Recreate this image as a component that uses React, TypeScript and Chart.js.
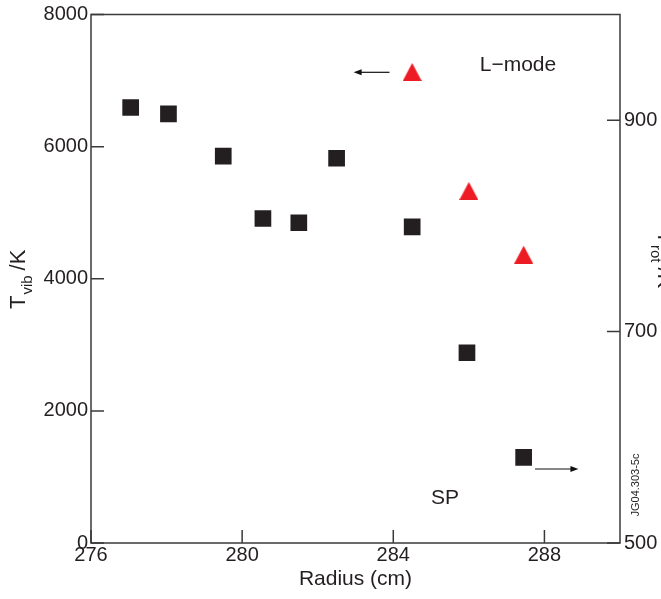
import React, { useEffect, useRef } from "react";
import { Chart, registerables } from "chart.js";

Chart.register(...registerables);

// Radial profile: rotational temperature (squares, right axis) and
// vibrational temperature (triangles, left axis).
const radiusRot = [277.05, 278.05, 279.5, 280.55, 281.5, 282.5, 284.5, 285.95, 287.45];
const tRot = [912, 906, 866, 807, 803, 864, 799, 680, 581];
const radiusVib = [284.5, 286.0, 287.45];
const tVib = [7130, 5330, 4365];

const xTicks = [276, 280, 284, 288];
const leftTicks = [0, 2000, 4000, 6000, 8000];
const rightTicks = [500, 700, 900];

const FONT = "'Liberation Sans', Arial, Helvetica, sans-serif";
const INK = "#231f20";
const AXIS = "#3a3a3a";
const RED = "#ed1c24";
const TICK_LEN = 13;

// Annotation anchors in data units (arrows point to the axis a series belongs to)
const vibArrow = { from: 283.9, to: 282.95, y: 7125 };
const rotArrow = { from: 287.75, to: 288.9, y: 570 };
const lModeLabel = { x: 287.3, y: 7236 };
const spLabel = { x: 285.37, y: 681 };

function drawArrow(ctx: CanvasRenderingContext2D, x0: number, x1: number, y: number) {
  const dir = Math.sign(x1 - x0);
  ctx.beginPath();
  ctx.moveTo(x0, y);
  ctx.lineTo(x1 - dir * 6, y);
  ctx.stroke();
  ctx.beginPath();
  ctx.moveTo(x1, y);
  ctx.lineTo(x1 - dir * 8, y - 3);
  ctx.lineTo(x1 - dir * 8, y + 3);
  ctx.closePath();
  ctx.fill();
}

type Part = { text: string; size: number; dy: number; gap?: number };

function drawRotated(
  ctx: CanvasRenderingContext2D,
  x: number,
  y: number,
  rotation: number,
  parts: Part[]
) {
  ctx.save();
  ctx.translate(x, y);
  ctx.rotate(rotation);
  ctx.textAlign = "left";
  ctx.textBaseline = "alphabetic";
  let cx = 0;
  for (const p of parts) {
    cx += p.gap || 0;
    ctx.font = `${p.size}px ${FONT}`;
    ctx.fillText(p.text, cx, p.dy);
    cx += ctx.measureText(p.text).width;
  }
  ctx.restore();
}

const decorPlugin = {
  id: "decor",
  afterDraw(chart: any) {
    const { ctx, chartArea: a, scales } = chart;
    const sx = scales.x;
    const sl = scales.y;
    const sr = scales.y1;
    ctx.save();

    // frame
    ctx.strokeStyle = AXIS;
    ctx.lineWidth = 1.5;
    ctx.strokeRect(a.left, a.top, a.right - a.left, a.bottom - a.top);

    // inward tick marks
    ctx.beginPath();
    xTicks.forEach((v) => {
      const px = sx.getPixelForValue(v);
      ctx.moveTo(px, a.bottom);
      ctx.lineTo(px, a.bottom - TICK_LEN);
    });
    leftTicks.forEach((v) => {
      const py = sl.getPixelForValue(v);
      ctx.moveTo(a.left, py);
      ctx.lineTo(a.left + TICK_LEN, py);
    });
    rightTicks.forEach((v) => {
      const py = sr.getPixelForValue(v);
      ctx.moveTo(a.right, py);
      ctx.lineTo(a.right - TICK_LEN, py);
    });
    ctx.stroke();

    // arrows
    ctx.strokeStyle = "#111";
    ctx.fillStyle = "#111";
    ctx.lineWidth = 1.2;
    drawArrow(
      ctx,
      sx.getPixelForValue(vibArrow.from),
      sx.getPixelForValue(vibArrow.to),
      sl.getPixelForValue(vibArrow.y)
    );
    drawArrow(
      ctx,
      sx.getPixelForValue(rotArrow.from),
      sx.getPixelForValue(rotArrow.to),
      sr.getPixelForValue(rotArrow.y)
    );

    // labels inside the plot
    ctx.fillStyle = INK;
    ctx.textAlign = "center";
    ctx.textBaseline = "middle";
    ctx.font = `21px ${FONT}`;
    ctx.fillText(
      "L\u2212mode",
      sx.getPixelForValue(lModeLabel.x),
      sl.getPixelForValue(lModeLabel.y)
    );
    ctx.fillText("SP", sx.getPixelForValue(spLabel.x), sl.getPixelForValue(spLabel.y));

    // figure id
    ctx.save();
    ctx.translate(a.right + 16, a.bottom - 58);
    ctx.rotate(-Math.PI / 2);
    ctx.font = `11px ${FONT}`;
    ctx.fillText("JG04.303-5c", 0, 0);
    ctx.restore();

    // axis titles
    drawRotated(ctx, 25, a.bottom - 234, -Math.PI / 2, [
      { text: "T", size: 22, dy: 0 },
      { text: "vib", size: 15, dy: 7, gap: 1 },
      { text: "/K", size: 22, dy: 0, gap: 5 },
    ]);
    drawRotated(ctx, a.right + 38, a.top + 216, Math.PI / 2, [
      { text: "T", size: 22, dy: 0 },
      { text: "rot", size: 15, dy: 7, gap: 1 },
      { text: "/K", size: 22, dy: 0, gap: 5 },
    ]);

    ctx.restore();
  },
};

function makeTriangle(): HTMLCanvasElement {
  const c = document.createElement("canvas");
  c.width = 19;
  c.height = 18;
  const g = c.getContext("2d")!;
  g.fillStyle = RED;
  g.beginPath();
  g.moveTo(9.5, 0);
  g.lineTo(19, 18);
  g.lineTo(0, 18);
  g.closePath();
  g.fill();
  return c;
}

const tickFont = { family: FONT, size: 20, lineHeight: 1 };

export default function App() {
  const ref = useRef<HTMLCanvasElement | null>(null);

  useEffect(() => {
    if (!ref.current) return;
    const triangle = makeTriangle();
    const chart = new Chart(ref.current, {
      type: "scatter",
      data: {
        datasets: [
          {
            label: "T_rot",
            data: radiusRot.map((x, i) => ({ x, y: tRot[i] })),
            yAxisID: "y1",
            pointStyle: "rect",
            pointRadius: 11.8,
            pointBorderWidth: 0,
            backgroundColor: INK,
            borderColor: INK,
          },
          {
            label: "T_vib",
            data: radiusVib.map((x, i) => ({ x, y: tVib[i] })),
            yAxisID: "y",
            pointStyle: triangle,
            pointRadius: 10,
            pointBorderWidth: 0,
            backgroundColor: RED,
            borderColor: RED,
          },
        ],
      },
      options: {
        responsive: false,
        animation: false,
        events: [],
        devicePixelRatio: 1,
        layout: { padding: { top: 14.5, left: 0, right: 0, bottom: 0 } },
        plugins: {
          legend: { display: false },
          tooltip: { enabled: false },
        },
        scales: {
          x: {
            type: "linear",
            position: "bottom",
            min: 276,
            max: 290,
            afterBuildTicks: (s: any) => {
              s.ticks = xTicks.map((value) => ({ value }));
            },
            afterFit: (s: any) => {
              s.height = 56;
              s.paddingLeft = 0;
              s.paddingRight = 0;
            },
            grid: { display: false, drawTicks: false },
            border: { display: false },
            ticks: {
              padding: 2,
              autoSkip: false,
              maxRotation: 0,
              color: INK,
              font: tickFont,
              callback: (v: any) => String(v),
            },
            title: {
              display: true,
              text: "Radius (cm)",
              color: INK,
              font: { family: FONT, size: 21, lineHeight: 1.2 },
              padding: { top: 0, bottom: 7 },
            },
          },
          y: {
            type: "linear",
            position: "left",
            min: 0,
            max: 8000,
            afterBuildTicks: (s: any) => {
              s.ticks = leftTicks.map((value) => ({ value }));
            },
            afterFit: (s: any) => {
              s.width = 91;
              s.paddingTop = 0;
              s.paddingBottom = 0;
            },
            grid: { display: false, drawTicks: false },
            border: { display: false },
            ticks: {
              padding: 3,
              autoSkip: false,
              color: INK,
              font: tickFont,
              callback: (v: any) => String(v),
            },
          },
          y1: {
            type: "linear",
            position: "right",
            min: 500,
            max: 1000,
            afterBuildTicks: (s: any) => {
              s.ticks = rightTicks.map((value) => ({ value }));
            },
            afterFit: (s: any) => {
              s.width = 41;
              s.paddingTop = 0;
              s.paddingBottom = 0;
            },
            grid: { display: false, drawTicks: false },
            border: { display: false },
            ticks: {
              padding: 4,
              autoSkip: false,
              color: INK,
              font: tickFont,
              callback: (v: any) => String(v),
            },
          },
        },
      },
      plugins: [decorPlugin],
    } as any);
    return () => chart.destroy();
  }, []);

  return (
    <div
      style={{
        position: "absolute",
        left: 0,
        top: 0,
        width: 661,
        height: 599,
        overflow: "hidden",
        background: "#fff",
      }}
    >
      <canvas ref={ref} width={661} height={599} style={{ display: "block", width: 661, height: 599 }} />
    </div>
  );
}
